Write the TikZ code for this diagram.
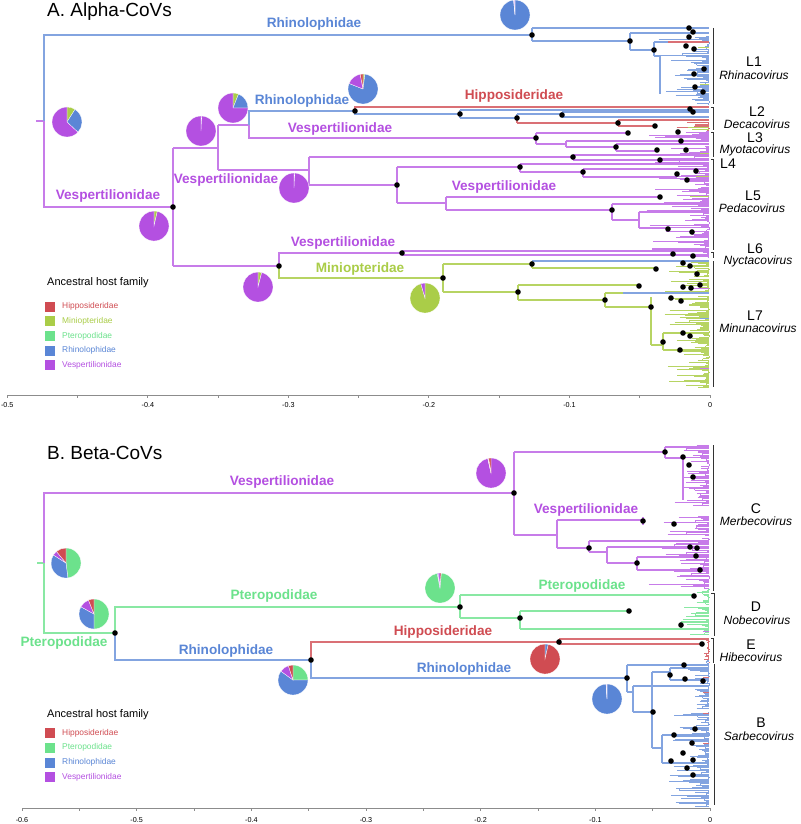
\documentclass[tikz,border=0pt]{standalone}
\usepackage{fontspec}
\setmainfont{Liberation Sans}
\definecolor{vesp}{RGB}{180,80,225}
\definecolor{rhino}{RGB}{90,134,214}
\definecolor{hippo}{RGB}{208,76,82}
\definecolor{mini}{RGB}{170,205,72}
\definecolor{ptero}{RGB}{108,226,140}
\colorlet{vespL}{vesp!75!white}
\colorlet{rhinoL}{rhino!75!white}
\colorlet{hippoL}{hippo!80!white}
\colorlet{miniL}{mini!85!white}
\colorlet{pteroL}{ptero!80!white}
\colorlet{paleL}{vesp!35!white}
\colorlet{axisC}{black!45}
\tikzset{
  br/.style={line width=1.05pt},
  tb/.style={line width=0.55pt},
  famlab/.style={font=\fontsize{13.6}{14}\selectfont\bfseries, inner sep=0pt},
  title/.style={font=\fontsize{19}{20}\selectfont, anchor=west, inner sep=0pt},
  clab/.style={font=\fontsize{14}{15}\selectfont, inner sep=0pt},
  glab/.style={font=\fontsize{12}{13}\selectfont\itshape, inner sep=0pt},
  legt/.style={font=\fontsize{11}{12}\selectfont, anchor=west, inner sep=0pt},
  legl/.style={font=\fontsize{8.4}{9}\selectfont, anchor=west, inner sep=0pt},
  axl/.style={font=\fontsize{7.2}{8}\selectfont, inner sep=0pt},
  brk/.style={line width=0.8pt, black!80},
  axisline/.style={line width=0.9pt, axisC},
}
\newcommand{\dt}[2]{\fill[black] (#1,#2) circle[radius=2.8pt];}
\newcommand{\hostpie}[2]{%
  \gdef\cumang{90}%
  \foreach \c/\f in {#2}{%
    \pgfmathsetmacro\enda{\cumang-360*\f}%
    \fill[\c, draw=white, line width=0.3pt] #1 -- ++(\cumang:15pt) arc[start angle=\cumang, end angle=\enda, radius=15pt] -- cycle;%
    \xdef\cumang{\enda}%
  }%
}
\newcommand{\bush}[5]{%
  \pgfmathsetmacro\bstep{(#4-#3)/#5}%
  \gdef\prevx{709}%
  \foreach \i in {0,...,#5}{%
    \pgfmathsetmacro\yy{#3+\i*\bstep}%
    \pgfmathsetmacro\xx{709-(709-#2)*rnd*rnd}%
    \draw[tb,#1] (\xx,\yy) -- (709,\yy);%
    \ifnum\i>0
      \pgfmathsetmacro\vx{max(\xx,\prevx)}%
      \draw[tb,#1] (\vx,\yy) -- (\vx,{\yy-\bstep});%
    \fi
    \xdef\prevx{\xx}%
  }%
}
\begin{document}
\begin{tikzpicture}[x=1pt,y=-1pt]
\pgfmathsetseed{1234}
\useasboundingbox (0,0) rectangle (800,824);
\fill[white] (0,0) rectangle (800,824);

%================ PANEL A =================
\node[title] (tA) at (47,12) {A. Alpha-CoVs};

% backbone
\draw[br,vespL] (36,121) -- (44,121);
\draw[br,rhinoL] (44,121) -- (44,35) -- (532,35);
\draw[br,vespL] (44,121) -- (44,207) -- (173,207);
\draw[br,vespL] (173,148) -- (173,266);
\draw[br,vespL] (173,148) -- (218,148);
\draw[br,vespL] (218,125) -- (218,170);
\draw[br,vespL] (218,125) -- (249,125) -- (249,138) -- (536,138);
\draw[br,rhinoL] (249,125) -- (249,111) -- (355,111);
\draw[br,vespL] (218,170) -- (309,170);
\draw[br,vespL] (309,157) -- (309,185);
\draw[br,vespL] (309,157) -- (573,157);
\draw[br,vespL] (309,185) -- (397,185);
\draw[br,vespL] (397,167) -- (397,203);
\draw[br,vespL] (397,167) -- (520,167);
\draw[br,vespL] (397,203) -- (446,203);
\draw[br,vespL] (446,197) -- (446,210);
\draw[br,vespL] (446,197) -- (660,197);
\draw[br,vespL] (446,210) -- (612,210);
\draw[br,vespL] (173,266) -- (279,266);
\draw[br,vespL] (279,266) -- (279,253) -- (402,253);
\draw[br,miniL] (279,266) -- (279,278) -- (443,278);
\draw[br,miniL] (443,264) -- (443,292);
\draw[br,miniL] (443,264) -- (532,264);
\draw[br,miniL] (443,292) -- (518,292);

% L1 Rhinacovirus
\draw[br,rhinoL] (532,28) -- (532,41);
\draw[br,rhinoL] (532,28) -- (709,28);
\draw[br,rhinoL] (532,41) -- (630,41);
\draw[br,rhinoL] (630,33) -- (630,50);
\draw[br,rhinoL] (630,33) -- (709,33);
\draw[br,rhinoL] (630,50) -- (654,50);
\draw[br,rhinoL] (654,42) -- (654,56);
\draw[br,rhinoL] (654,42) -- (709,42);
\draw[br,rhinoL] (654,56) -- (660,56);
\draw[br,rhinoL] (660,56) -- (660,94);
\bush{rhinoL}{654}{36}{56}{17}
\bush{rhinoL}{660}{57}{104}{42}
\draw[br,hippoL] (668,42) -- (709,42);
\draw[tb,miniL] (698,47) -- (709,47);
\draw[tb,miniL] (700,84) -- (709,84);

% L2 Decacovirus
\draw[br,hippoL] (355,111) -- (355,107) -- (709,107);
\draw[br,rhinoL] (355,111) -- (355,114) -- (460,114);
\draw[br,rhinoL] (460,110) -- (460,118);
\draw[br,rhinoL] (460,110) -- (709,110);
\draw[br,rhinoL] (460,118) -- (517,118);
\draw[br,rhinoL] (517,114) -- (517,118);
\draw[br,hippoL] (517,118) -- (517,123);
\draw[br,rhinoL] (517,114) -- (562,114);
\draw[br,rhinoL] (562,112) -- (562,117);
\draw[br,rhinoL] (562,112) -- (709,112);
\draw[br,rhinoL] (562,117) -- (709,117);
\draw[br,hippoL] (517,123) -- (618,123);
\draw[br,hippoL] (618,120) -- (618,126);
\draw[br,hippoL] (618,120) -- (709,120);
\draw[br,hippoL] (618,126) -- (655,126);
\bush{hippoL}{655}{122}{130}{9}
\draw[tb,miniL] (688,127) -- (709,127);
\draw[tb,miniL] (692,129) -- (709,129);

% L3 Myotacovirus
\draw[br,vespL] (536,133) -- (536,144);
\draw[br,vespL] (536,133) -- (628,133);
\bush{vespL}{628}{131}{139}{9}
\draw[br,vespL] (536,144) -- (566,144);
\draw[br,vespL] (566,141) -- (566,147);
\draw[br,vespL] (566,141) -- (709,141);
\draw[br,vespL] (566,147) -- (616,147);
\draw[br,vespL] (616,144) -- (616,151);
\draw[br,vespL] (616,144) -- (709,144);
\draw[br,vespL] (616,151) -- (657,151);
\bush{vespL}{657}{146}{156}{10}
\draw[tb,miniL] (700,153) -- (709,153);

% L4
\draw[br,vespL] (573,155) -- (573,160);
\draw[br,vespL] (573,155) -- (709,155);
\draw[br,vespL] (573,160) -- (709,160);
\bush{vespL}{600}{154}{162}{6}
\draw[br,vespL] (520,164) -- (520,172);
\draw[br,vespL] (520,164) -- (709,164);
\draw[br,vespL] (520,172) -- (583,172);
\draw[br,vespL] (583,169) -- (583,177);
\draw[br,vespL] (583,169) -- (709,169);
\draw[br,vespL] (583,177) -- (677,177);
\bush{vespL}{640}{165}{185}{18}
\draw[tb,miniL] (696,176) -- (709,176);

% L5 Pedacovirus
\bush{vespL}{640}{187}{206}{17}
\draw[tb,miniL] (690,196) -- (709,196);
\draw[br,vespL] (612,204) -- (612,220);
\draw[br,vespL] (612,204) -- (709,204);
\draw[br,vespL] (612,220) -- (639,220);
\draw[br,vespL] (639,212) -- (639,228);
\draw[br,vespL] (639,212) -- (709,212);
\draw[br,vespL] (639,228) -- (668,228);
\bush{vespL}{639}{208}{249}{36}

% L6 Nyctacovirus
\draw[br,vespL] (402,251) -- (402,255);
\draw[br,vespL] (402,251) -- (709,251);
\draw[br,vespL] (402,255) -- (709,255);
\bush{vespL}{680}{251}{257}{5}

% L7 Minunacovirus
\draw[br,miniL] (532,261) -- (532,268);
\draw[br,rhinoL] (532,261) -- (709,261);
\draw[br,miniL] (532,268) -- (656,268);
\bush{miniL}{656}{262}{276}{12}
\draw[br,miniL] (518,285) -- (518,300);
\draw[br,miniL] (518,285) -- (639,285);
\bush{miniL}{639}{279}{292}{12}
\draw[br,miniL] (518,300) -- (605,300);
\draw[br,miniL] (605,293) -- (605,307);
\draw[br,miniL] (605,293) -- (623,293);
\draw[br,rhinoL] (623,293) -- (709,293);
\draw[br,miniL] (605,307) -- (651,307);
\draw[br,miniL] (651,297) -- (651,345);
\bush{miniL}{651}{296}{310}{12}
\draw[br,miniL] (651,345) -- (663,345);
\draw[br,miniL] (663,333) -- (663,350);
\draw[br,miniL] (663,333) -- (709,333);
\draw[br,miniL] (663,350) -- (709,350);
\bush{miniL}{655}{311}{387}{70}
\draw[tb,vespL] (690,288) -- (709,288);
\draw[tb,rhinoL] (700,318) -- (709,318);
\draw[tb,vespL] (700,368) -- (709,368);

% dots A
\foreach \p/\q in {173/207,279/266,443/278,532/264,518/292,402/253,355/111,536/138,573/157,397/185,520/167,583/172,612/210,660/197,
  532/35,689/28,693/32,689/37,630/41,654/50,686/46,694/49,704/69,694/74,695/87,703/92,
  460/114,690/109,693/112,517/118,562/115,618/123,655/126,
  628/133,678/132,681/141,616/147,657/150,686/150,660/160,677/174,696/171,687/180,
  668/229,692/232,673/254,693/256,
  656/269,683/263,690/266,697/274,639/286,683/287,691/288,700/285,605/300,651/307,671/298,681/301,663/342,683/333,690/336,680/350}
  {\dt{\p}{\q}}

% pies A
\hostpie{(67,122)}{mini/0.09,rhino/0.28,vesp/0.63}
\hostpie{(154,226)}{mini/0.035,vesp/0.965}
\hostpie{(201,131)}{paleL/0.008,vesp/0.992}
\hostpie{(233,108)}{mini/0.06,rhino/0.19,vesp/0.75}
\hostpie{(363,89)}{mini/0.02,rhino/0.79,vesp/0.16,hippo/0.03}
\hostpie{(294,188)}{paleL/0.008,vesp/0.992}
\hostpie{(515,15)}{rhino/0.985,paleL/0.015}
\hostpie{(258,287)}{mini/0.04,vesp/0.96}
\hostpie{(425,298)}{mini/0.955,vesp/0.045}

% family labels A
\node[famlab,text=rhino] (fa1) at (314,24) {Rhinolophidae};
\node[famlab,text=rhino] (fa2) at (302,101) {Rhinolophidae};
\node[famlab,text=hippo] (fa3) at (514,96) {Hipposideridae};
\node[famlab,text=vesp] (fa4) at (340,129) {Vespertilionidae};
\node[famlab,text=vesp] (fa5) at (226,180) {Vespertilionidae};
\node[famlab,text=vesp] (fa6) at (108,196) {Vespertilionidae};
\node[famlab,text=vesp] (fa7) at (504,187) {Vespertilionidae};
\node[famlab,text=vesp] (fa8) at (343,243) {Vespertilionidae};
\node[famlab,text=mini] (fa9) at (360,269) {Miniopteridae};

% brackets A
\draw[brk] (713,28) -- (713,104);
\draw[brk] (711,107) -- (713,107) -- (713,130);
\draw[brk] (711,132) -- (713,132) -- (713,157);
\draw[brk] (711,159) -- (713,159) -- (713,250);
\draw[brk] (711,252) -- (713,252) -- (713,258);
\draw[brk] (713,261) -- (713,387);
\node[clab] (l1) at (754,62) {L1};
\node[glab] (g1) at (754,75) {Rhinacovirus};
\node[clab] (l2) at (757,112) {L2};
\node[glab] (g2) at (757,124.5) {Decacovirus};
\node[clab] (l3) at (755,137.5) {L3};
\node[glab] (g3) at (755,150.5) {Myotacovirus};
\node[clab] (l4) at (728,163.5) {L4};
\node[clab] (l5) at (753,196) {L5};
\node[glab] (g5) at (752,208) {Pedacovirus};
\node[clab] (l6) at (755,248.5) {L6};
\node[glab] (g6) at (758,261.5) {Nyctacovirus};
\node[clab] (l7) at (755,316) {L7};
\node[glab] (g7) at (758,328) {Minunacovirus};

% legend A
\node[legt] (lgA) at (47,283) {Ancestral host family};
\foreach \c/\t/\yy in {hippo/Hipposideridae/306.7, mini/Miniopteridae/321, ptero/Pteropodidae/336, rhino/Rhinolophidae/350.7, vesp/Vespertilionidae/365}{
  \fill[\c] (45,\yy-5) rectangle (55,\yy+5);
  \node[legl,text=\c] at (62,\yy) {\t};
}

% axis A
\draw[axisline] (7.3,395) -- (710,395);
\foreach \k in {0,...,10} \draw[axisline] ({7.3+\k*70.27},395) -- ++(0,2.5);
\foreach \k/\t in {0/-0.5,1/-0.4,2/-0.3,3/-0.2,4/-0.1,5/0} \node[axl] at ({7.3+\k*140.54},405) {\t};

%================ PANEL B =================
\node[title] (tB) at (47,453) {B. Beta-CoVs};

\draw[br,pteroL] (37,563) -- (44,563);
\draw[br,vespL] (44,563) -- (44,493) -- (514,493);
\draw[br,pteroL] (44,563) -- (44,633) -- (115,633);
\draw[br,pteroL] (115,633) -- (115,607) -- (460,607);
\draw[br,rhinoL] (115,633) -- (115,660) -- (311,660);
\draw[br,hippoL] (311,660) -- (311,642) -- (559,642);
\draw[br,rhinoL] (311,660) -- (311,678) -- (627,678);

% C Merbecovirus
\draw[br,vespL] (514,452) -- (514,535);
\draw[br,vespL] (514,452) -- (665,452);
\draw[br,vespL] (665,447) -- (665,458);
\draw[br,vespL] (665,447) -- (709,447);
\draw[br,vespL] (665,458) -- (683,458);
\draw[br,vespL] (683,458) -- (683,500);
\bush{vespL}{665}{445}{505}{48}
\draw[br,vespL] (514,535) -- (557,535);
\draw[br,vespL] (557,520) -- (557,548);
\draw[br,vespL] (557,520) -- (643,520);
\draw[br,vespL] (643,517) -- (643,525);
\bush{vespL}{643}{516}{535}{16}
\draw[br,vespL] (557,548) -- (589,548);
\draw[br,vespL] (589,541) -- (589,552);
\draw[br,vespL] (589,541) -- (709,541);
\draw[br,vespL] (589,552) -- (607,552);
\draw[br,vespL] (607,547) -- (607,563);
\draw[br,vespL] (607,547) -- (709,547);
\draw[br,vespL] (607,563) -- (637,563);
\draw[br,vespL] (637,557) -- (637,570);
\draw[br,vespL] (637,557) -- (709,557);
\draw[br,vespL] (637,570) -- (709,570);
\bush{vespL}{630}{538}{588}{38}

% D Nobecovirus
\draw[br,pteroL] (460,595) -- (460,618);
\draw[br,pteroL] (460,595) -- (694,595);
\bush{pteroL}{690}{589}{604}{12}
\draw[br,pteroL] (460,618) -- (520,618);
\draw[br,pteroL] (520,611) -- (520,629);
\draw[br,pteroL] (520,611) -- (629,611);
\bush{pteroL}{629}{607}{616}{8}
\draw[br,pteroL] (520,629) -- (709,629);
\draw[br,pteroL] (681,622) -- (681,629);
\draw[br,pteroL] (681,622) -- (709,622);
\bush{pteroL}{660}{619}{634}{12}
\draw[tb,vespL] (703,631) -- (709,631);

% E Hibecovirus
\draw[br,hippoL] (559,639) -- (559,644);
\draw[br,hippoL] (559,639) -- (709,639);
\draw[br,hippoL] (559,644) -- (702,644);
\bush{hippoL}{700}{640}{662}{16}

% B Sarbecovirus
\draw[br,rhinoL] (627,665) -- (627,692);
\draw[br,rhinoL] (627,665) -- (709,665);
\bush{rhinoL}{684}{660}{670}{7}
\draw[br,rhinoL] (627,692) -- (633,692);
\draw[br,rhinoL] (633,686) -- (633,712);
\draw[br,rhinoL] (633,686) -- (709,686);
\draw[br,rhinoL] (633,712) -- (652,712);
\draw[br,rhinoL] (652,672) -- (652,748);
\draw[br,rhinoL] (652,672) -- (670,672);
\draw[br,rhinoL] (670,668) -- (670,680);
\draw[br,rhinoL] (670,668) -- (709,668);
\draw[br,rhinoL] (670,680) -- (709,680);
\bush{rhinoL}{671}{668}{708}{32}
\draw[br,rhinoL] (652,748) -- (662,748);
\draw[br,rhinoL] (662,735) -- (662,763);
\draw[br,rhinoL] (662,735) -- (709,735);
\draw[br,rhinoL] (662,763) -- (709,763);
\bush{rhinoL}{662}{712}{806}{76}
\foreach \q in {677,692,713,743} \draw[tb,hippoL] (703,\q) -- (709,\q);

% dots B
\foreach \p/\q in {514/493,115/633,460/607,311/660,559/642,627/678,
  665/452,683/457,689/465,693/477,643/521,674/524,589/548,690/547,697/548,696/556,637/563,700/570,
  694/596,520/618,629/611,681/625,702/644,
  684/665,670/675,685/679,703/681,653/712,695/729,674/735,692/743,683/753,693/760,671/761,687/768,693/775}
  {\dt{\p}{\q}}

% pies B
\hostpie{(66,563)}{ptero/0.48,rhino/0.36,vesp/0.05,hippo/0.11}
\hostpie{(94,614)}{ptero/0.5,rhino/0.33,vesp/0.11,hippo/0.06}
\hostpie{(440,588)}{hippo/0.015,ptero/0.955,rhino/0.01,vesp/0.02}
\hostpie{(293,680)}{ptero/0.25,rhino/0.6,vesp/0.1,hippo/0.05}
\hostpie{(491,473)}{vesp/0.965,paleL/0.01,hippo/0.025}
\hostpie{(545,659)}{rhino/0.035,hippo/0.965}
\hostpie{(607,699)}{rhino/0.99,paleL/0.01}

% family labels B
\node[famlab,text=vesp] (fb1) at (282,482) {Vespertilionidae};
\node[famlab,text=ptero] (fb2) at (274,596) {Pteropodidae};
\node[famlab,text=ptero] (fb3) at (64,643) {Pteropodidae};
\node[famlab,text=rhino] (fb4) at (226,651) {Rhinolophidae};
\node[famlab,text=hippo] (fb5) at (443,632) {Hipposideridae};
\node[famlab,text=rhino] (fb6) at (464,669) {Rhinolophidae};
\node[famlab,text=vesp] (fb7) at (586,510) {Vespertilionidae};
\node[famlab,text=ptero] (fb8) at (582,586) {Pteropodidae};

% brackets B
\draw[brk] (713,445) -- (713,591);
\draw[brk] (711,593) -- (714,593) -- (714,636);
\draw[brk] (711,638) -- (713,638) -- (713,663);
\draw[brk] (714,664) -- (714,805);
\node[clab] (lc) at (756,509) {C};
\node[glab] (gc) at (756,521) {Merbecovirus};
\node[clab] (ld) at (756,607) {D};
\node[glab] (gd) at (757,620) {Nobecovirus};
\node[clab] (le) at (751,645) {E};
\node[glab] (ge) at (751,657.5) {Hibecovirus};
\node[clab] (lb) at (761,723) {B};
\node[glab] (gb) at (759,736) {Sarbecovirus};

% legend B
\node[legt] (lgB) at (47,715) {Ancestral host family};
\foreach \c/\t/\yy in {hippo/Hipposideridae/733, ptero/Pteropodidae/747.7, rhino/Rhinolophidae/762.7, vesp/Vespertilionidae/777}{
  \fill[\c] (45,\yy-5) rectangle (55,\yy+5);
  \node[legl,text=\c] at (62,\yy) {\t};
}

% axis B
\draw[axisline] (22,808) -- (710,808);
\foreach \k in {0,...,12} \draw[axisline] ({22+\k*57.33},808) -- ++(0,2.5);
\foreach \k/\t in {0/-0.6,1/-0.5,2/-0.4,3/-0.3,4/-0.2,5/-0.1,6/0} \node[axl] at ({22+\k*114.67},820) {\t};

\end{tikzpicture}
\end{document}
